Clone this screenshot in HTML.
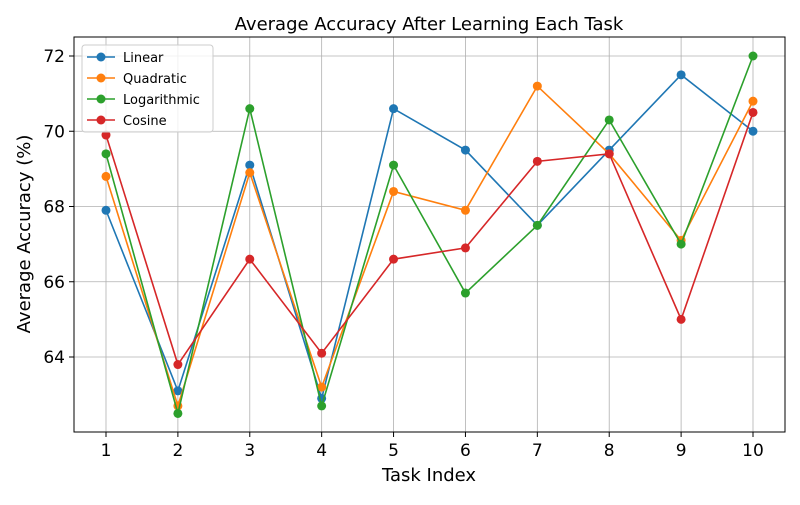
<!DOCTYPE html>
<html><head><meta charset="utf-8"><style>
body{margin:0;background:#fff;font-family:"Liberation Sans","DejaVu Sans",sans-serif}
svg text{font-family:"DejaVu Sans","Liberation Sans",sans-serif}
</style></head><body>
<svg id="chart" width="800" height="500" xmlns="http://www.w3.org/2000/svg"></svg>
<script>
const categories=[1,2,3,4,5,6,7,8,9,10];
const seriesNames=["Linear","Quadratic","Logarithmic","Cosine"];
const linear=[67.9,63.1,69.1,62.9,70.6,69.5,67.5,69.5,71.5,70.0];
const quadratic=[68.8,62.7,68.9,63.2,68.4,67.9,71.2,69.4,67.1,70.8];
const logarithmic=[69.4,62.5,70.6,62.7,69.1,65.7,67.5,70.3,67.0,72.0];
const cosine=[69.9,63.8,66.6,64.1,66.6,66.9,69.2,69.4,65.0,70.5];
const yTicks=[64,66,68,70,72];
const colors=["#1f77b4","#ff7f0e","#2ca02c","#d62728"];
const series=[linear,quadratic,logarithmic,cosine];
const L=74,R=785,T=37,B=432;
const X=v=>106+(v-1)*(753-106)/9;
const Y=v=>357-(v-64)*(357-56)/8;
const svg=document.getElementById('chart');
const NS="http://www.w3.org/2000/svg";
function mk(t,a,p){const e=document.createElementNS(NS,t);for(const k in a)e.setAttribute(k,a[k]);(p||svg).appendChild(e);return e;}
let e;
e=mk('text',{x:429,y:30,'text-anchor':'middle','font-size':18,fill:'#000'});e.textContent="Average Accuracy After Learning Each Task";

categories.forEach(c=>{
 e=mk('line',{x1:X(c),x2:X(c),y1:T,y2:B,stroke:'#b0b0b0','stroke-width':0.8});
 
 mk('line',{x1:X(c),x2:X(c),y1:B,y2:B+5,stroke:'#000'});
 e=mk('text',{x:X(c),y:B+24,'text-anchor':'middle','font-size':17});e.textContent=c;
 
});
yTicks.forEach(v=>{
 e=mk('line',{x1:L,x2:R,y1:Y(v),y2:Y(v),stroke:'#b0b0b0','stroke-width':0.8});
 
 mk('line',{x1:L-5,x2:L,y1:Y(v),y2:Y(v),stroke:'#000'});
 e=mk('text',{x:L-9,y:Y(v)+6,'text-anchor':'end','font-size':17});e.textContent=v;
 
});
e=mk('rect',{x:L,y:T,width:R-L,height:B-T,fill:'none',stroke:'#000','stroke-width':1});

e=mk('text',{x:429,y:481,'text-anchor':'middle','font-size':18});e.textContent="Task Index";

e=mk('text',{x:30,y:234,'text-anchor':'middle','font-size':18,transform:'rotate(-90 30 234)'});e.textContent="Average Accuracy (%)";

series.forEach((s,i)=>{
 const g=mk('g',{});
 
 mk('polyline',{points:s.map((v,j)=>X(categories[j])+','+Y(v)).join(' '),fill:'none',stroke:colors[i],'stroke-width':1.6},g);
 s.forEach((v,j)=>{e=mk('circle',{cx:X(categories[j]),cy:Y(v),r:4.5,fill:colors[i]},g);
  });
});
const lg=mk('g',{});

mk('rect',{x:82,y:45,width:131,height:87,rx:3,fill:'#fff','fill-opacity':0.8,stroke:'#ccc'},lg);
seriesNames.forEach((n,i)=>{
 const y=57+i*21;
 const g=mk('g',{},lg);
 
 mk('line',{x1:87,x2:115,y1:y,y2:y,stroke:colors[i],'stroke-width':1.6},g);
 mk('circle',{cx:101,cy:y,r:4.5,fill:colors[i]},g);
 const t=mk('text',{x:123,y:y+5,'font-size':13},g);t.textContent=n;
});
</script>
</body></html>
